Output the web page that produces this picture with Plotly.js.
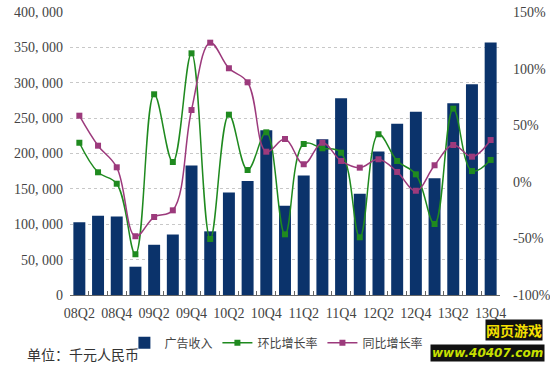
<!DOCTYPE html>
<html><head><meta charset="utf-8">
<script src="https://cdn.plot.ly/plotly-3.0.1.min.js"></script>
<style>body{margin:0;background:#fff}#c{width:550px;height:368px}</style>
</head><body><div id="c"></div>
<script>
const categories = ["08Q2","08Q3","08Q4","09Q1","09Q2","09Q3","09Q4","10Q1","10Q2","10Q3","10Q4","11Q1","11Q2","11Q3","11Q4","12Q1","12Q2","12Q3","12Q4","13Q1","13Q2","13Q3","13Q4"];
const adRevenue = [103000,112000,111000,40000,71000,85500,183000,90000,145000,161000,233000,126000,169000,220000,278000,143000,203000,242000,259000,165000,271000,298000,357000];
const qoqGrowth = [34.5,8.4,-1.7,-64,77.3,17.5,113.5,-50.5,59.3,10.4,43.7,-46.4,33.4,29.6,25.7,-49,42,18.4,6.6,-37.3,64.6,9.5,19.3];
const yoyGrowth = [58.4,31.9,12.8,-48.1,-31.1,-25.2,63.4,122.9,100.3,87.9,26.6,37.8,15.5,34.5,18.4,12.5,19.9,8.7,-7.9,14.6,32.5,22.2,36.9];
const leftTickVals = [0,50000,100000,150000,200000,250000,300000,350000,400000];
const leftTickText = ["0","50, 000","100, 000","150, 000","200, 000","250, 000","300, 000","350, 000","400, 000"];
const rightTickVals = [-100,-50,0,50,100,150];
const rightTickText = ["-100%","-50%","0%","50%","100%","150%"];
const xTickText = categories.map((c,i)=> i%2===0 ? c : "");
const seriesNames = ["广告收入","环比增长率","同比增长率"];

const serif = "Liberation Serif, DejaVu Serif, serif";
const sans = "Noto Sans CJK SC, sans-serif";

const data = [
  {type:"bar", x:categories, y:adRevenue, name:seriesNames[0], marker:{color:"#0b336b"}, yaxis:"y"},
  {type:"scatter", mode:"lines+markers", x:categories, y:qoqGrowth, name:seriesNames[1], yaxis:"y2",
   line:{color:"#1f8a1f", width:1.5, shape:"spline", smoothing:1.1}, marker:{symbol:"square", size:6, color:"#1f8a1f"}},
  {type:"scatter", mode:"lines+markers", x:categories, y:yoyGrowth, name:seriesNames[2], yaxis:"y2",
   line:{color:"#9c3a7c", width:1.5, shape:"spline", smoothing:1.1}, marker:{symbol:"square", size:6, color:"#9c3a7c"}}
];

const layout = {
  width:550, height:368,
  margin:{l:70, r:50, t:12, b:72},
  paper_bgcolor:"#fff", plot_bgcolor:"#fff",
  bargap:0.36,
  showlegend:true,
  legend:{orientation:"h", x:0.48, xanchor:"center", y:-0.165, yanchor:"middle",
          font:{family:sans, size:12, color:"#444"}, itemwidth:30, tracegroupgap:0},
  xaxis:{type:"category", range:[-0.5,22.5], tickvals:categories, ticktext:xTickText,
         tickson:"boundaries", ticks:"inside", ticklen:4, tickcolor:"#666",
         showline:true, linecolor:"#666", linewidth:1, showgrid:false,
         tickfont:{family:serif, size:14, color:"#444"}, tickangle:0, ticklabelstandoff:5},
  yaxis:{range:[0,400000], tickvals:leftTickVals, ticktext:leftTickText,
         showgrid:true, gridcolor:"#c8c8c8", griddash:"dot", zeroline:false, showline:false,
         tickfont:{family:serif, size:14, color:"#444"}, ticks:"", ticklabelstandoff:6},
  yaxis2:{overlaying:"y", side:"right", range:[-100,150], tickvals:rightTickVals, ticktext:rightTickText,
          showgrid:false, zeroline:false, showline:false,
          tickfont:{family:serif, size:14, color:"#444"}, ticks:"", ticklabelstandoff:12},
  annotations:[
    {text:"单位：千元人民币", xref:"paper", yref:"paper", x:-0.105, xanchor:"left", y:-0.208, yanchor:"middle",
     showarrow:false, font:{family:sans, size:14, color:"#333"}},
    {text:"<b>网页游戏</b>", xref:"paper", yref:"paper", x:1.1, xanchor:"right", y:-0.125, yanchor:"middle",
     showarrow:false, font:{family:sans, size:14, color:"#f5e000"}, bgcolor:"#111", borderpad:0},
    {text:"<b><i>www.40407.com</i></b>", xref:"paper", yref:"paper", x:1.105, xanchor:"right", y:-0.205, yanchor:"middle",
     showarrow:false, font:{family:"DejaVu Sans, sans-serif", size:12, color:"#c8e000"}, bgcolor:"#111", borderpad:1}
  ]
};
Plotly.newPlot("c", data, layout, {displayModeBar:false, staticPlot:true});
</script></body></html>
